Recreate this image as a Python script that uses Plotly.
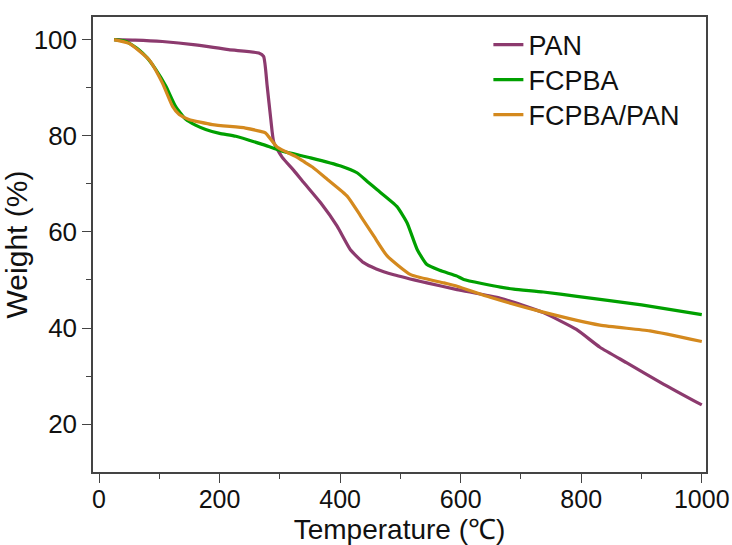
import plotly.graph_objects as go

# Data
pan_t = [25, 60, 105, 160, 215, 265, 273, 279, 285, 290, 304, 323, 340, 368, 395, 417, 439, 460,
         489, 544, 594, 666, 737, 792, 831, 875, 937, 1000]
pan_w = [100, 99.9, 99.6, 98.9, 97.9, 97.2, 96.5, 90.3, 83.4, 78.6, 75.5, 72.8, 70.2, 66.0, 61.2,
         56.3, 53.6, 52.3, 51.1, 49.4, 48.0, 46.2, 43.2, 39.7, 36.0, 32.8, 28.3, 24.0]

fcpba_t = [25, 45, 66, 80, 94, 111, 127, 144, 160, 177, 200, 227, 271, 304, 351, 401, 428, 445,
           461, 494, 511, 528, 544, 565, 594, 605, 666, 688, 737, 793, 900, 1000]
fcpba_w = [100, 99.6, 97.9, 96.2, 93.8, 90.3, 86.1, 83.4, 82.2, 81.3, 80.5, 79.9, 78.2, 76.8,
           75.4, 73.7, 72.3, 70.5, 68.8, 65.3, 61.9, 56.3, 53.2, 52.0, 50.8, 50.1, 48.5, 48.1,
           47.5, 46.6, 44.8, 42.8]

mix_t = [25, 50, 83, 105, 122, 133, 149, 188, 243, 268, 276, 296, 326, 340, 354, 379, 412, 434,
         456, 478, 517, 572, 594, 649, 737, 831, 914, 1000]
mix_w = [100, 99.2, 95.8, 91.0, 86.1, 84.4, 83.4, 82.3, 81.6, 80.9, 80.6, 77.6, 75.7, 74.6,
         73.5, 70.9, 67.4, 63.3, 59.1, 55.0, 51.1, 49.4, 48.7, 46.4, 43.3, 40.6, 39.4, 37.2]

names = ["PAN", "FCPBA", "FCPBA/PAN"]
colors = ["rgb(140,58,110)", "rgb(0,160,0)", "rgb(212,137,30)"]
series = [(pan_t, pan_w), (fcpba_t, fcpba_w), (mix_t, mix_w)]

FONT = "Liberation Sans, Arial, sans-serif"

legend_ids = ["legend", "legend2", "legend3"]
legend_y = [0.9385, 0.8615, 0.7846]

fig = go.Figure()
for (t, w), n, c, lg in zip(series, names, colors, legend_ids):
    fig.add_trace(go.Scatter(x=t, y=w, mode="lines", name=n, legend=lg,
                             line=dict(color=c, width=3.2, shape="spline", smoothing=0.5)))

axis_common = dict(
    showline=True, linecolor="#444", linewidth=1.5, mirror=True,
    ticks="outside", ticklen=9, tickwidth=1.3, tickcolor="#444",
    showgrid=False, zeroline=False, automargin=False,
)

legend_style = dict(x=0.645, xanchor="left", yanchor="middle",
                    font=dict(family=FONT, size=27, color="#111"),
                    bgcolor="rgba(0,0,0,0)", borderwidth=0)

fig.update_layout(
    width=732, height=545,
    margin=dict(l=93, r=26, t=17, b=73),
    paper_bgcolor="white", plot_bgcolor="white",
    showlegend=True,
    legend=dict(y=legend_y[0], **legend_style),
    legend2=dict(y=legend_y[1], **legend_style),
    legend3=dict(y=legend_y[2], **legend_style),
    xaxis=dict(range=[-10, 1007], tickvals=[0, 200, 400, 600, 800, 1000],
               ticklabelstandoff=-5,
               tickfont=dict(family=FONT, size=25, color="#111"),
               minor=dict(tickvals=[100, 300, 500, 700, 900], ticks="outside", ticklen=5,
                          tickcolor="#444", tickwidth=1.3),
               title=dict(text="Temperature (℃)", font=dict(family=FONT, size=28, color="#111"),
                          standoff=8),
               **axis_common),
    yaxis=dict(range=[10.05, 104.7], tickvals=[20, 40, 60, 80, 100],
               tickfont=dict(family=FONT, size=26, color="#111"),
               minor=dict(tickvals=[30, 50, 70, 90], ticks="outside", ticklen=5,
                          tickcolor="#444", tickwidth=1.3),
               title=dict(text="Weight (%)", font=dict(family=FONT, size=30, color="#111"),
                          standoff=0),
               **axis_common),
)

fig.write_html("out.html", config={"displayModeBar": False},
               post_script="document.body.style.margin='0';")
